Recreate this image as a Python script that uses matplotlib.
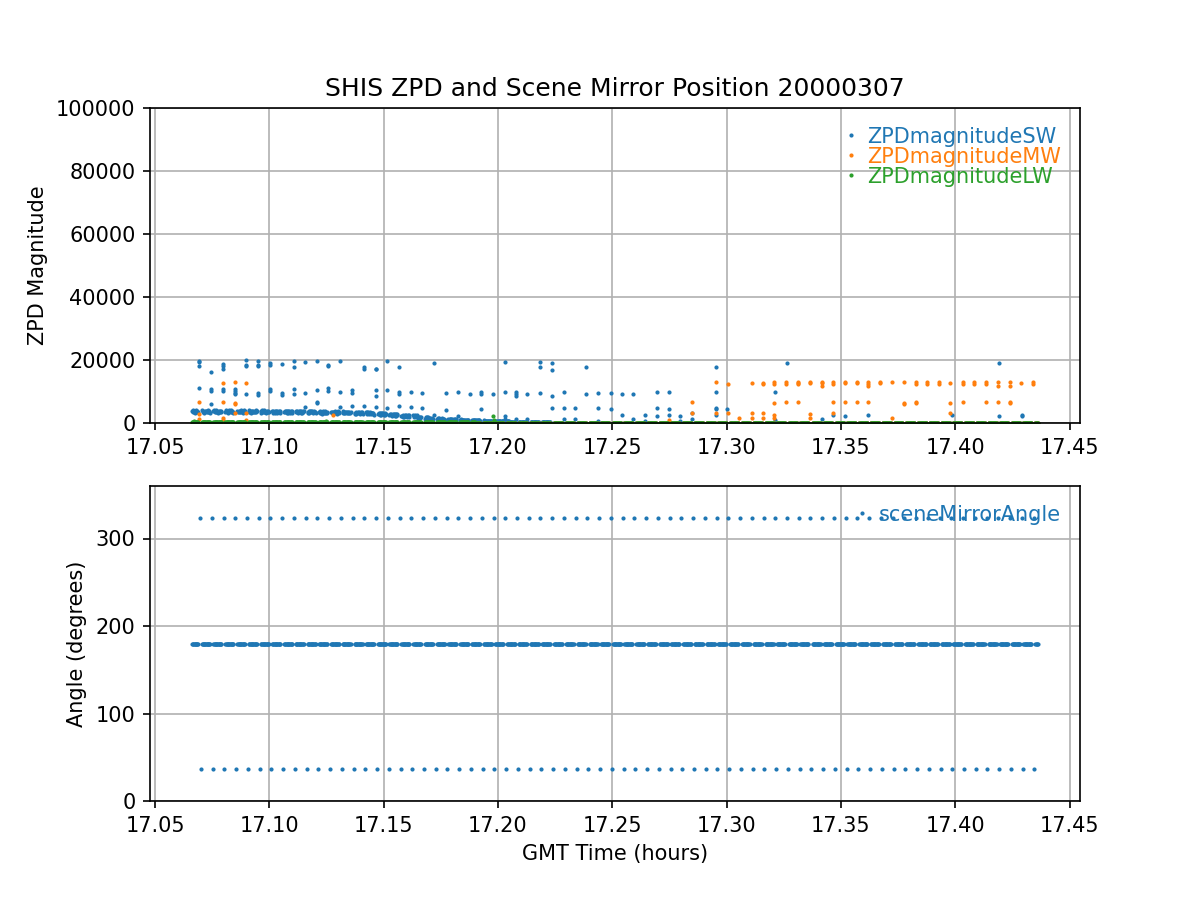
import numpy as np
import matplotlib
matplotlib.use('Agg')
import matplotlib.pyplot as plt

# scan timing, GMT hours
t_begin = 17.0663
t_end = 17.4361
bb_first = 17.0697
bb_period = 0.005134
n_cycles = 72
sample_step = 0.00025
bb_halfgap = 0.0007
amb_lag = 0.0004

# scene mirror angles (degrees)
earth_angle = 180.0
hot_angle = 323.0
amb_angle = 37.0

# SW magnitude of the earth views: level from each edge time onwards
sw_band_edges = [17.0663, 17.100, 17.120, 17.135, 17.145, 17.152, 17.158,
                 17.165, 17.170, 17.176, 17.184, 17.194, 17.205, 17.215, 17.224]
sw_band_level = [3650, 3550, 3350, 3200, 2900, 2600, 2200,
                 1700, 1300, 1100, 850, 550, 350, 200, 0]
sw_band_jitter = [280, -230, 380, -80, 150, -350, 50, 320, -280, 110,
                  -150, 350, -50, 220, -320, 0, 190, -110, 300, -250]

# LW / MW magnitude of the earth views
lw_band_edges = [17.0663, 17.19]
lw_band_level = [400, 60]
mw_earth_level = 100

# blackbody view magnitudes: (time, values)
sw_bb = [
    (17.0694, [19700, 19300, 18000, 11000]),
    (17.0746, [16200, 10900, 10100, 6000]),
    (17.0797, [18700, 18200, 17300, 10900, 10100]),
    (17.0849, [10700, 10100, 9600, 9100]),
    (17.0900, [20000, 18500, 18000, 9100]),
    (17.0952, [19700, 18500, 18000, 9400, 8900]),
    (17.1002, [18900, 18300, 10900, 10100]),
    (17.1056, [18600, 9600, 8900]),
    (17.1107, [19700, 17800, 10800, 9100]),
    (17.1156, [19400, 9600, 5000]),
    (17.1209, [19700, 10400, 6800, 6200]),
    (17.1258, [18500, 18000, 11000, 10100]),
    (17.1311, [19700, 9700, 5000]),
    (17.1362, [10500, 9400, 5400]),
    (17.1415, [17800, 17000, 5500]),
    (17.1466, [17300, 17000, 10500, 8600, 5200]),
    (17.1516, [19700, 10400, 4700]),
    (17.1569, [17700, 9700, 9300, 5300]),
    (17.1620, [10000, 5000]),
    (17.1667, [9400, 4700]),
    (17.1722, [19000, 2400]),
    (17.1774, [9400, 4100]),
    (17.1825, [9700, 2100]),
    (17.1879, [9100]),
    (17.1927, [9100, 9700, 4300]),
    (17.1980, [9100]),
    (17.2030, [19400, 9700, 2100, 1150]),
    (17.2078, [9700, 9100, 8500, 1150]),
    (17.2129, [9100, 1150]),
    (17.2182, [19400, 17700, 9400]),
    (17.2236, [19000, 16900, 8500, 4700]),
    (17.2287, [9700, 4700, 1150]),
    (17.2339, [4700, 1150]),
    (17.2387, [17700, 9100]),
    (17.2439, [9400, 4700, 600]),
    (17.2494, [9400, 4300]),
    (17.2542, [9100, 2400]),
    (17.2592, [9100, 1150]),
    (17.2645, [2400, 600]),
    (17.2695, [9700, 4700, 2100]),
    (17.2750, [9700, 4300, 2400]),
    (17.2798, [2100, 600]),
    (17.2850, [3100, 1150]),
    (17.2953, [17700, 9700, 4700, 4300, 2400]),
    (17.3003, [4300]),
    (17.3211, [9700, 800]),
    (17.3262, [19000]),
    (17.3415, [1150]),
    (17.3467, [2400]),
    (17.3516, [2100]),
    (17.3620, [2400]),
    (17.3984, [2400]),
    (17.4189, [19000, 2100]),
    (17.4290, [2400, 2100]),
]

mw_bb = [
    (17.0694, [6600, 2800, 1400]),
    (17.0797, [12600, 6600, 1500, 900]),
    (17.0849, [12900, 6300, 5900, 3100]),
    (17.0900, [12600, 3100, 800]),
    (17.1279, [2400]),
    (17.2746, [800]),
    (17.2850, [6600, 3100]),
    (17.2953, [12900, 3100]),
    (17.3004, [12300, 3100]),
    (17.3056, [1500]),
    (17.3109, [12600, 3100, 1500]),
    (17.3161, [12600, 12300, 3100, 1500]),
    (17.3209, [12900, 12300, 6200, 2400, 1500]),
    (17.3260, [12900, 12300, 6600]),
    (17.3310, [12900, 12600, 12300, 6600]),
    (17.3365, [12600, 12900, 2800, 1500]),
    (17.3418, [12600, 12900, 11700]),
    (17.3467, [12900, 12300, 6600, 3100]),
    (17.3516, [12900, 12600, 6600]),
    (17.3570, [12600, 12900, 6600]),
    (17.3620, [12900, 12300, 11800, 6600]),
    (17.3672, [12900, 12600]),
    (17.3721, [1500]),
    (17.3724, [12900]),
    (17.3776, [12900, 6200, 5900]),
    (17.3826, [12900, 12300, 6600, 6200]),
    (17.3877, [12900, 12300]),
    (17.3928, [12900, 12300]),
    (17.3979, [12600, 6200, 3100]),
    (17.4032, [12900, 12300, 6600]),
    (17.4083, [12900, 12300]),
    (17.4133, [12900, 12300, 6600]),
    (17.4186, [12900, 11800, 6600]),
    (17.4238, [12900, 11800, 6200, 6600]),
    (17.4287, [12600]),
    (17.4339, [12900, 12300]),
]

lw_bb = [
    (17.0672, [650]),
    (17.1248, [750]),
    (17.1977, [2300]),
    (17.1983, [950]),
]


def flatten(groups):
    t, v = [], []
    for time, vals in groups:
        for val in vals:
            t.append(time)
            v.append(val)
    return np.array(t), np.array(v, dtype=float)


def step_lookup(edges, levels, t):
    idx = np.searchsorted(edges, t, side='right') - 1
    idx = np.clip(idx, 0, len(levels) - 1)
    return np.array(levels, dtype=float)[idx]


# sample times
bb_times = bb_first + bb_period * np.arange(n_cycles)
t_all = np.arange(t_begin, t_end + sample_step / 2, sample_step)
near_bb = np.min(np.abs(t_all[:, None] - bb_times[None, :]), axis=1) < bb_halfgap
t_earth = t_all[~near_bb]

sw_level = step_lookup(sw_band_edges, sw_band_level, t_earth)
jit = np.array([sw_band_jitter[i % len(sw_band_jitter)] for i in range(len(t_earth))])
sw_earth = sw_level + jit * np.minimum(1.0, sw_level / 2000.0)
lw_earth = step_lookup(lw_band_edges, lw_band_level, t_earth)
mw_earth = np.full(len(t_earth), mw_earth_level, dtype=float)

sw_t, sw_v = flatten(sw_bb)
mw_t, mw_v = flatten(mw_bb)
lw_t, lw_v = flatten(lw_bb)

fig, (ax1, ax2) = plt.subplots(2, 1, figsize=(8, 6), dpi=150)

ms = 2.0
ax1.plot(np.concatenate([t_earth, sw_t]), np.concatenate([sw_earth, sw_v]),
         '.', ms=ms, color='tab:blue', label='ZPDmagnitudeSW')
ax1.plot(np.concatenate([t_earth, mw_t]), np.concatenate([mw_earth, mw_v]),
         '.', ms=ms, color='tab:orange', label='ZPDmagnitudeMW')
ax1.plot(np.concatenate([t_earth, lw_t]), np.concatenate([lw_earth, lw_v]),
         '.', ms=ms, color='tab:green', label='ZPDmagnitudeLW')
ax1.set_ylim(0, 100000)
ax1.set_ylabel('ZPD Magnitude')
ax1.set_title('SHIS ZPD and Scene Mirror Position 20000307')
ax1.grid(True)
ax1.legend(loc='upper right', frameon=False, handlelength=0,
           labelspacing=0, labelcolor='linecolor')

ang_t = np.concatenate([t_earth, bb_times, bb_times + amb_lag])
ang_v = np.concatenate([np.full(len(t_earth), earth_angle),
                        np.full(n_cycles, hot_angle),
                        np.full(n_cycles, amb_angle)])
ax2.plot(ang_t, ang_v, '.', ms=ms, color='tab:blue', label='sceneMirrorAngle')
ax2.set_ylim(0, 360)
ax2.set_ylabel('Angle (degrees)')
ax2.set_xlabel('GMT Time (hours)')
ax2.grid(True)
ax2.legend(loc='upper right', frameon=False, handlelength=0,
           labelcolor='linecolor')

fig.savefig('out.png')
